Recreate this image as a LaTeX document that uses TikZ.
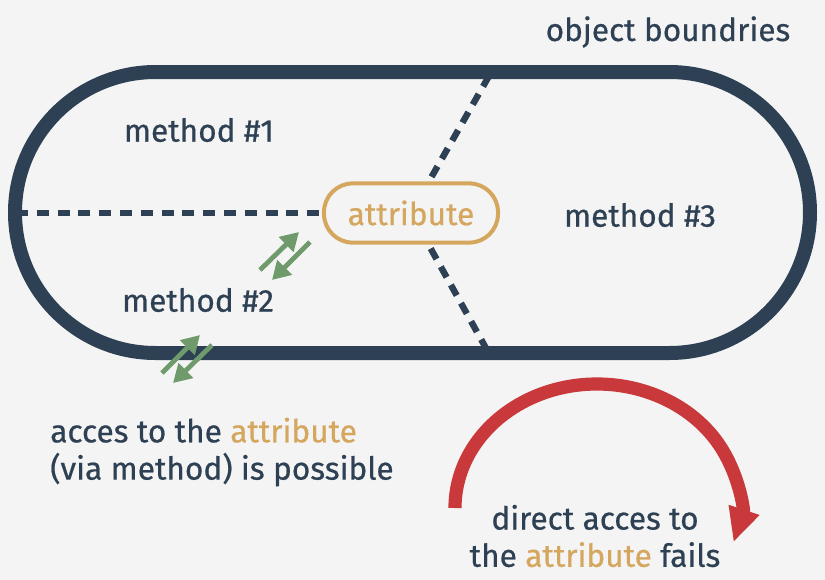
\documentclass[tikz,border=0pt]{standalone}
\usepackage{fontspec}
\setmainfont{Fira Sans}[UprightFeatures={FakeBold=0.6}]
\usetikzlibrary{arrows.meta}
\definecolor{navy}{HTML}{2E4053}
\definecolor{gold}{HTML}{D4A65E}
\definecolor{leaf}{HTML}{6F9A6B}
\definecolor{brick}{HTML}{C9383A}
\definecolor{paper}{HTML}{F4F4F4}
\tikzset{
  boundary/.style={draw=navy, line width=0.35cm},
  divider/.style={draw=navy, line width=0.16cm, dash pattern=on 0.3cm off 0.22cm},
  txt/.style={text=navy, font=\fontsize{22.5}{26.5}\selectfont, inner sep=0pt},
  attr/.style={draw=gold, line width=0.1cm, rounded corners=0.72cm, minimum width=4.35cm,
    minimum height=1.48cm, text=gold, font=\fontsize{22.5}{26.5}\selectfont},
  access/.style={draw=leaf, line width=0.12cm, -{Triangle[length=0.45cm,width=0.5cm]}},
  fail/.style={draw=brick, line width=0.33cm, -{Triangle[length=0.85cm,width=0.75cm]}}
}
\begin{document}
\begin{tikzpicture}[x=0.025cm, y=-0.025cm]
\fill[paper] (0,0) rectangle (825,580);
\useasboundingbox (0,0) rectangle (825,580);
% object outline
\draw[boundary] (155.5,72) -- (669.5,72) arc[start angle=-90, end angle=90, radius=140.5]
  -- (155.5,353) arc[start angle=90, end angle=270, radius=140.5] -- cycle;
\node[attr] (attr) at (411,213) {attribute};
% dividers between the methods
\coordinate (west) at (16,213);
\coordinate (top) at (489,76);
\coordinate (bottom) at (487,350);
\path[divider] (west) -- (attr);
\path[divider] (top) -- (attr);
\path[divider] (bottom) -- (attr);
\node[txt] (m1) at (199,130) {method \#1};
\node[txt] (m2) at (198,300) {method \#2};
\node[txt] (m3) at (640,215) {method \#3};
\node[txt] (bound) at (668,32) {object boundries};
% access via a method
\coordinate (a1) at (260,270);
\coordinate (a2) at (299,232);
\coordinate (a3) at (310,242);
\coordinate (a4) at (272,280);
\coordinate (b1) at (162,373);
\coordinate (b2) at (200,335);
\coordinate (b3) at (212,345);
\coordinate (b4) at (173,383);
\path[access] (a1) -- (a2);
\path[access] (a3) -- (a4);
\path[access] (b1) -- (b2);
\path[access] (b3) -- (b4);
\node[txt, anchor=west, align=left] (ok) at (50,452) {acces to the \textcolor{gold}{attribute}\\(via method) is possible};
% direct access
\draw[fail] (455,508) arc[start angle=180, end angle=376, x radius=142, y radius=124];
\node[txt, align=center] (nok) at (595,536) {direct acces to\\the \textcolor{gold}{attribute} fails};
\end{tikzpicture}
\end{document}
